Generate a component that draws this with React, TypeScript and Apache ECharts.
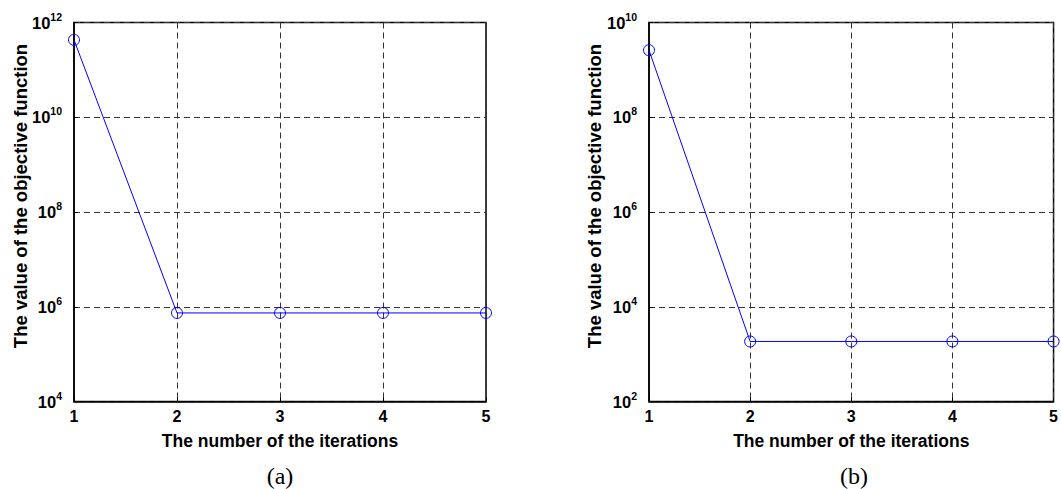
import React, { useEffect, useRef } from "react";
import * as echarts from "echarts";

const iterations = [1, 2, 3, 4, 5];
const objectiveA = [4.3e11, 7.4e5, 7.4e5, 7.4e5, 7.4e5];
const objectiveB = [2.6e9, 1.85e3, 1.85e3, 1.85e3, 1.85e3];
const captions = ["(a)", "(b)"];
const xAxisTitle = "The number of the iterations";
const yAxisTitle = "The value of the objective function";

const grids = [
  { left: 74, top: 22.5, width: 412, height: 379 },
  { left: 649, top: 22.5, width: 410, height: 379 },
];
const yRanges = [
  { min: 1e4, max: 1e12 },
  { min: 1e2, max: 1e10 },
];
const yTitleX = [20, 594];

export default function App() {
  const ref = useRef<HTMLDivElement>(null);
  useEffect(() => {
    if (!ref.current) return;
    const chart = echarts.init(ref.current, undefined, { renderer: "svg" });
    const font = "'Liberation Sans', Arial, sans-serif";
    const dash = [6, 4];
    const yFormatter = (v: number) => {
      const e = Math.round(Math.log10(v));
      return `{b|10}{s|${e}}`;
    };
    const series = [objectiveA, objectiveB];
    chart.setOption({
      animation: false,
      backgroundColor: "#fff",
      grid: grids.map((g) => ({
        ...g,
        show: true,
        borderColor: "#000",
        borderWidth: 1.5,
        backgroundColor: "transparent",
      })),
      xAxis: grids.map((_, i) => ({
        gridIndex: i,
        type: "value",
        min: 1,
        max: 5,
        interval: 1,
        name: xAxisTitle,
        nameLocation: "middle",
        nameGap: 30,
        nameTextStyle: { fontFamily: font, fontWeight: "bold", fontSize: 17.5, color: "#000" },
        axisLine: { show: true, onZero: false, lineStyle: { color: "#000", width: 1.5 } },
        axisTick: { show: true, inside: true, length: 4, lineStyle: { color: "#000" } },
        axisLabel: { fontFamily: font, fontWeight: "bold", fontSize: 16, color: "#000", margin: 7 },
        splitLine: { show: true, lineStyle: { color: "#333", type: dash, width: 1 } },
      })),
      yAxis: grids.map((_, i) => ({
        gridIndex: i,
        type: "log",
        logBase: 10,
        min: yRanges[i].min,
        max: yRanges[i].max,
        interval: 2,
        axisLine: { show: true, lineStyle: { color: "#000", width: 1.5 } },
        axisTick: { show: true, inside: true, length: 4, lineStyle: { color: "#000" } },
        minorTick: { show: false },
        axisLabel: {
          formatter: yFormatter,
          margin: 12,
          rich: {
            b: { fontFamily: font, fontWeight: "bold", fontSize: 16.5, color: "#000" },
            s: { fontFamily: font, fontWeight: "bold", fontSize: 10.5, color: "#000", padding: [0, 0, 12, 0] },
          },
        },
        splitLine: { show: true, lineStyle: { color: "#333", type: dash, width: 1 } },
      })),
      series: series.map((data, i) => ({
        type: "line",
        xAxisIndex: i,
        yAxisIndex: i,
        data: iterations.map((x, j) => [x, data[j]]),
        symbol: "circle",
        symbolSize: 11,
        itemStyle: { color: "rgba(0,0,0,0)", borderColor: "#0000ff", borderWidth: 1 },
        lineStyle: { color: "#0000ff", width: 1 },
        z: 5,
      })),
      graphic: [
        ...captions.map((c, i) => ({
          type: "text",
          x: grids[i].left + grids[i].width / 2,
          y: 476,
          style: {
            text: c,
            fontFamily: "'Liberation Serif', 'Times New Roman', serif",
            fontSize: 24,
            fill: "#000",
            align: "center",
            verticalAlign: "middle",
          },
        })),
        ...grids.map((g, i) => ({
          type: "text",
          x: yTitleX[i],
          y: 196,
          rotation: Math.PI / 2,
          style: {
            text: yAxisTitle,
            fontFamily: font,
            fontWeight: "bold",
            fontSize: 18.5,
            fill: "#000",
            align: "center",
            verticalAlign: "middle",
          },
        })),
      ],
    });
    return () => chart.dispose();
  }, []);
  return (
    <div
      ref={ref}
      style={{ position: "fixed", left: 0, top: 0, width: 1061, height: 489 }}
    />
  );
}
